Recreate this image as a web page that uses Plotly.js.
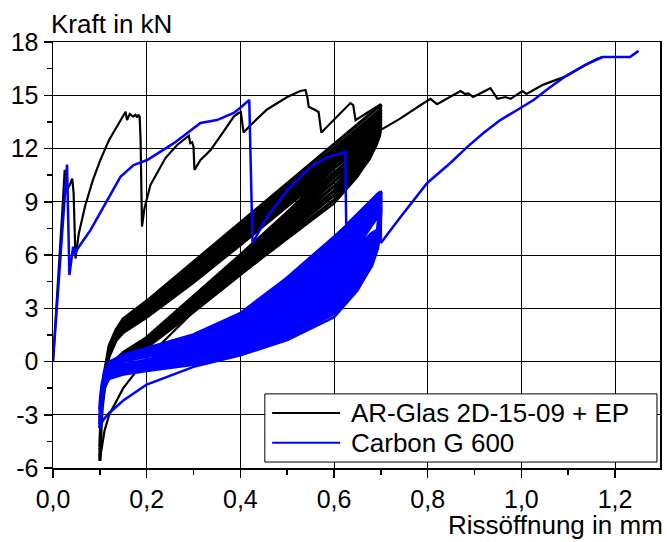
<!DOCTYPE html>
<html><head><meta charset="utf-8">
<script src="https://cdn.plot.ly/plotly-3.0.1.min.js"></script>
<style>html,body{margin:0;padding:0;background:#fff}#chart{width:667px;height:542px}</style>
</head><body><div id="chart"></div>
<script>
// ---------- AR-Glas 2D-15-09 + EP (black) ----------
const bkEnvX = [0,0.010,0.020,0.025,0.030,0.035,0.041,0.044,0.048,0.055,0.069,0.085,0.101,0.120,0.144,0.155,0.158,0.164,0.171,0.176,0.180,0.182,0.185,0.187,0.190,0.195,0.208,0.240,0.265,0.283,0.290,0.293,0.297,0.300,0.301,0.302,0.315,0.336,0.360,0.386,0.396,0.401,0.407,0.421,0.457,0.500,0.528,0.539,0.543,0.546,0.560,0.567,0.573,0.600,0.635,0.641,0.646,0.670,0.699];
const bkEnvY = [0,4.0,8.5,10.8,9.7,9.9,10.3,9.5,5.8,7.2,8.8,10.2,11.35,12.5,13.6,14.07,13.6,13.94,13.8,13.9,13.75,13.9,13.8,12.5,7.6,8.6,9.94,11.46,12.2,12.6,12.72,12.3,12.35,12.1,11.5,10.8,11.35,11.9,12.8,13.8,14.0,14.05,12.9,13.3,14.2,14.9,15.24,15.3,14.9,14.35,14.17,14.06,12.9,13.6,14.56,14.45,13.6,14.0,14.5];
const bkLoadX = [0.100,0.102,0.105,0.110,0.120,0.135,0.150,0.200,0.300,0.400,0.500,0.600,0.700];
const bkUnX   = [0.700,0.697,0.690,0.675,0.650,0.600,0.500,0.400,0.300,0.200,0.150,0.120,0.110,0.105,0.102,0.100];
const bkFirstUnY = [14.5,13.6,12.6,11.5,10.4,8.9,6.9,4.9,2.8,0.2,-1.5,-3.0,-3.9,-4.6,-5.2,-5.6];
const bkLoadY = [
  [-5.6,-4.0,-2.2,-0.6,0.9,1.8,2.4,3.4,5.6,7.8,10.0,12.2,14.45],
  [-5.45,-3.9,-2.2,-0.7,0.78,1.68,2.22,3.22,5.38,7.58,9.78,11.98,14.2],
  [-5.35,-3.85,-2.15,-0.7,0.7,1.6,2.12,3.1,5.22,7.42,9.62,11.82,14.0],
  [-5.25,-3.8,-2.1,-0.75,0.62,1.52,2.03,2.99,5.08,7.27,9.47,11.66,13.8],
  [-5.15,-3.7,-2.1,-0.75,0.55,1.45,1.95,2.88,4.95,7.12,9.32,11.5,13.65],
  [-5.05,-3.65,-2.05,-0.8,0.48,1.38,1.87,2.78,4.82,6.98,9.17,11.35,13.5],
  [-4.95,-3.55,-2.0,-0.8,0.42,1.31,1.79,2.68,4.7,6.84,9.02,11.2,13.35],
  [-4.85,-3.5,-2.0,-0.8,0.36,1.25,1.71,2.59,4.58,6.71,8.88,11.05,13.2],
  [-4.8,-3.4,-1.9,-0.8,0.3,1.2,1.64,2.5,4.47,6.58,8.75,10.92,13.05]
];
const bkUnY = [
  [14.45,13.9,13.2,12.6,11.9,10.9,8.4,6.0,3.7,1.35,0.5,-0.25,-0.95,-2.15,-3.45,-5.45],
  [14.2,13.7,13.06,12.43,11.7,10.64,8.2,5.84,3.57,1.27,0.43,-0.33,-1.03,-2.21,-3.5,-5.35],
  [14.0,13.5,12.91,12.26,11.5,10.39,8.0,5.69,3.44,1.19,0.36,-0.41,-1.1,-2.28,-3.55,-5.25],
  [13.8,13.3,12.77,12.09,11.3,10.13,7.8,5.53,3.31,1.11,0.29,-0.49,-1.18,-2.34,-3.6,-5.15],
  [13.65,13.15,12.63,11.91,11.1,9.87,7.6,5.37,3.19,1.04,0.21,-0.56,-1.26,-2.41,-3.65,-5.05],
  [13.5,13.0,12.49,11.74,10.9,9.61,7.4,5.21,3.06,0.96,0.14,-0.64,-1.34,-2.47,-3.7,-4.95],
  [13.35,12.85,12.34,11.57,10.7,9.36,7.2,5.06,2.93,0.88,0.07,-0.72,-1.42,-2.54,-3.75,-4.85],
  [13.2,12.7,12.2,11.4,10.5,9.1,7.0,4.9,2.8,0.8,0.0,-0.8,-1.5,-2.6,-3.8,-4.8]
];
const bkPostX = [0.700,0.742,0.785,0.806,0.820,0.870,0.880,0.887,0.897,0.934,0.949,0.966,0.977,1.002,1.011,1.047,1.098,1.136,1.162,1.173];
const bkPostY = [13.05,13.7,14.45,14.8,14.5,15.24,15.07,15.1,14.9,15.4,14.8,14.9,14.8,15.24,15.07,15.6,16.1,16.7,17.05,17.15];

// ---------- Carbon G 600 (blue) ----------
const blEnvX = [0,0.015,0.030,0.035,0.043,0.047,0.051,0.080,0.108,0.144,0.172,0.201,0.258,0.283,0.315,0.350,0.386,0.400,0.419,0.426,0.457,0.500,0.550,0.585,0.620,0.624,0.626,0.695];
const blEnvY = [0,5.5,11.1,4.87,6.47,6.0,6.3,7.4,8.7,10.4,11.07,11.35,12.3,12.8,13.44,13.6,14.0,14.3,14.73,6.68,8.14,9.66,10.96,11.5,11.8,11.8,7.7,9.5];
const blLoadX = [0.100,0.102,0.105,0.110,0.120,0.150,0.200,0.300,0.400,0.500,0.600,0.650,0.700];
const blUnX   = [0.700,0.698,0.693,0.680,0.650,0.600,0.500,0.400,0.300,0.200,0.150,0.120,0.110,0.105,0.102,0.100];
const blFirstUnY = [9.55,8.0,6.5,5.4,4.0,2.5,1.2,0.35,-0.3,-1.3,-2.2,-2.9,-3.2,-3.4,-3.6,-3.75];
const blLoadY = [
  [-3.75,-2.5,-1.5,-0.6,-0.05,0.35,0.75,1.50,2.70,4.70,7.00,8.20,9.55],
  [-3.55,-2.45,-1.5,-0.6,-0.08,0.32,0.70,1.42,2.58,4.50,6.80,8.02,9.45],
  [-3.40,-2.4,-1.45,-0.6,-0.10,0.29,0.66,1.34,2.46,4.30,6.60,7.85,9.35],
  [-3.25,-2.3,-1.4,-0.6,-0.12,0.26,0.62,1.26,2.34,4.10,6.40,7.68,9.25],
  [-3.15,-2.25,-1.4,-0.6,-0.14,0.23,0.57,1.18,2.22,3.90,6.20,7.50,9.15],
  [-3.05,-2.2,-1.4,-0.62,-0.16,0.20,0.53,1.10,2.10,3.72,6.00,7.33,9.05],
  [-2.95,-2.15,-1.35,-0.64,-0.18,0.16,0.49,1.02,1.98,3.55,5.80,7.17,8.95],
  [-2.90,-2.1,-1.35,-0.66,-0.20,0.13,0.45,0.95,1.87,3.38,5.60,7.02,8.85],
  [-2.85,-2.05,-1.3,-0.68,-0.22,0.10,0.41,0.88,1.76,3.22,5.42,6.88,8.75],
  [-2.80,-2.0,-1.3,-0.70,-0.24,0.07,0.37,0.81,1.66,3.07,5.25,6.75,8.65],
  [-2.75,-1.98,-1.3,-0.72,-0.26,0.04,0.33,0.75,1.57,2.93,5.10,6.63,8.55],
  [-2.70,-1.95,-1.3,-0.74,-0.28,0.01,0.30,0.70,1.50,2.80,4.95,6.52,8.45]
];
const blUnY = [
  [9.55,8.6,7.4,7.2,6.4,5.0,2.9,1.5,0.6,0.05,-0.2,-0.45,-0.85,-1.45,-2.2,-3.55],
  [9.45,8.5,7.3,7.0,6.2,4.78,2.74,1.4,0.53,0.0,-0.25,-0.5,-0.9,-1.5,-2.22,-3.40],
  [9.35,8.4,7.2,6.8,5.97,4.55,2.58,1.29,0.45,-0.06,-0.3,-0.55,-0.95,-1.55,-2.24,-3.25],
  [9.25,8.3,7.1,6.6,5.74,4.32,2.42,1.18,0.38,-0.11,-0.35,-0.6,-1.0,-1.6,-2.26,-3.15],
  [9.15,8.2,7.0,6.4,5.51,4.09,2.26,1.07,0.3,-0.17,-0.4,-0.65,-1.05,-1.65,-2.28,-3.05],
  [9.05,8.1,6.9,6.2,5.28,3.86,2.1,0.96,0.23,-0.22,-0.45,-0.7,-1.1,-1.7,-2.3,-2.95],
  [8.95,8.0,6.8,6.0,5.05,3.63,1.94,0.85,0.15,-0.28,-0.5,-0.75,-1.15,-1.75,-2.32,-2.90],
  [8.85,7.9,6.7,5.85,4.82,3.4,1.78,0.74,0.08,-0.33,-0.55,-0.8,-1.2,-1.8,-2.34,-2.85],
  [8.75,7.8,6.6,5.7,4.59,3.17,1.62,0.63,0.0,-0.39,-0.6,-0.85,-1.25,-1.85,-2.36,-2.80],
  [8.65,7.7,6.5,5.55,4.36,2.94,1.46,0.52,-0.07,-0.44,-0.65,-0.9,-1.3,-1.9,-2.38,-2.75],
  [8.55,7.6,6.4,5.4,4.13,2.72,1.30,0.42,-0.15,-0.5,-0.7,-0.95,-1.35,-1.95,-2.4,-2.70]
];
const blPostX = [0.700,0.700,0.742,0.799,0.849,0.884,0.919,0.955,0.991,1.026,1.062,1.098,1.136,1.173,1.232,1.250];
const blPostY = [8.45,6.67,8.14,10.06,11.2,12.08,12.87,13.6,14.17,14.73,15.46,16.14,16.7,17.15,17.15,17.5];

// names and tick labels
const seriesNames = ['AR-Glas 2D-15-09 + EP', 'Carbon G 600'];
const seriesColors = ['#000000', '#0000ff'];
const xTickVals = [0,0.2,0.4,0.6,0.8,1.0,1.2];
const yTickVals = [-6,-3,0,3,6,9,12,15,18];
const yTickText = ['-6','-3','0','3','6','9','12','15','18'];

// thin path: envelope + first unloading, then (gap) the path after the cycles
function thinPath(envX, envY, unX, firstUnY, postX, postY) {
  return {
    x: envX.concat(unX, [null], postX),
    y: envY.concat(firstUnY, [null], postY)
  };
}
// dense band: the repeated loading / unloading cycles
function cyclePath(loadX, loadY, unX, unY) {
  let x = [], y = [];
  for (let i = 0; i < loadY.length; i++) {
    x = x.concat(loadX); y = y.concat(loadY[i]);
    if (i < unY.length) { x = x.concat(unX); y = y.concat(unY[i]); }
  }
  return {x, y};
}
const bkThin = thinPath(bkEnvX, bkEnvY, bkUnX, bkFirstUnY, bkPostX, bkPostY);
const bkCyc  = cyclePath(bkLoadX, bkLoadY, bkUnX, bkUnY);
const blThin = thinPath(blEnvX, blEnvY, blUnX, blFirstUnY, blPostX, blPostY);
const blCyc  = cyclePath(blLoadX, blLoadY, blUnX, blUnY);

const FONT = 'Liberation Sans, Arial, sans-serif';
const FS = 26;
const traces = [
  {x: bkThin.x, y: bkThin.y, mode: 'lines', name: seriesNames[0], legendgroup: 'a', showlegend: false, connectgaps: false, line: {color: seriesColors[0], width: 2.2}},
  {x: bkCyc.x, y: bkCyc.y, mode: 'lines', name: seriesNames[0], legendgroup: 'a', showlegend: false, line: {color: seriesColors[0], width: 3.2}},
  {x: blThin.x, y: blThin.y, mode: 'lines', name: seriesNames[1], legendgroup: 'b', showlegend: false, connectgaps: false, line: {color: seriesColors[1], width: 2.5}},
  {x: blCyc.x, y: blCyc.y, mode: 'lines', name: seriesNames[1], legendgroup: 'b', showlegend: false, line: {color: seriesColors[1], width: 3.6}}
];
const axisCommon = {
  showline: true, linecolor: '#000', linewidth: 1.5, mirror: true,
  showgrid: true, gridcolor: '#000', gridwidth: 1, zeroline: false,
  ticks: 'outside', ticklen: 8, tickwidth: 1.5, tickcolor: '#000',
  tickfont: {family: FONT, size: 25, color: '#000'}
};
// legend: framed box with sample lines and labels (paper coords)
const legX0 = 0.349, legX1 = 0.995, legY0 = 0.014, legY1 = 0.174;
const legRows = [0.129, 0.059];
const legLine = [0.361, 0.473], legText = 0.487;
const shapes = [
  {type: 'rect', xref: 'paper', yref: 'paper', x0: legX0, x1: legX1, y0: legY0, y1: legY1, line: {color: '#000', width: 1}, fillcolor: '#fff', layer: 'above'}
];
const annotations = [
  {text: 'Kraft in kN', xref: 'paper', yref: 'paper', x: -0.006, y: 1.0, xanchor: 'left', yanchor: 'bottom', yshift: 1, showarrow: false, font: {family: FONT, size: FS, color: '#000'}},
  {text: 'Rissöffnung in mm', xref: 'paper', yref: 'paper', x: 1.008, y: 0, xanchor: 'right', yanchor: 'top', yshift: -40, showarrow: false, font: {family: FONT, size: FS, color: '#000'}}
];
for (let i = 0; i < seriesNames.length; i++) {
  shapes.push({type: 'line', xref: 'paper', yref: 'paper', x0: legLine[0], x1: legLine[1], y0: legRows[i], y1: legRows[i], line: {color: seriesColors[i], width: 2}, layer: 'above'});
  annotations.push({text: seriesNames[i], xref: 'paper', yref: 'paper', x: legText, y: legRows[i], xanchor: 'left', yanchor: 'middle', showarrow: false, font: {family: FONT, size: FS, color: '#000'}});
}
const layout = {
  width: 667, height: 542,
  margin: {l: 53, r: 7, t: 42, b: 74},
  paper_bgcolor: '#fff', plot_bgcolor: '#fff',
  separators: ',.',
  showlegend: false,
  xaxis: Object.assign({}, axisCommon, {
    range: [0, 1.296], tickvals: xTickVals, tickformat: '.1f',
    minor: {dtick: 0.1, tick0: 0, ticks: 'outside', ticklen: 5, tickwidth: 1.5, tickcolor: '#000', showgrid: false}
  }),
  yaxis: Object.assign({}, axisCommon, {
    range: [-6, 18], tickvals: yTickVals, ticktext: yTickText,
    minor: {dtick: 1.5, tick0: 0, ticks: 'outside', ticklen: 5, tickwidth: 1.5, tickcolor: '#000', showgrid: false}
  }),
  shapes: shapes,
  annotations: annotations
};
Plotly.newPlot('chart', traces, layout, {displayModeBar: false, staticPlot: true});
</script></body></html>
